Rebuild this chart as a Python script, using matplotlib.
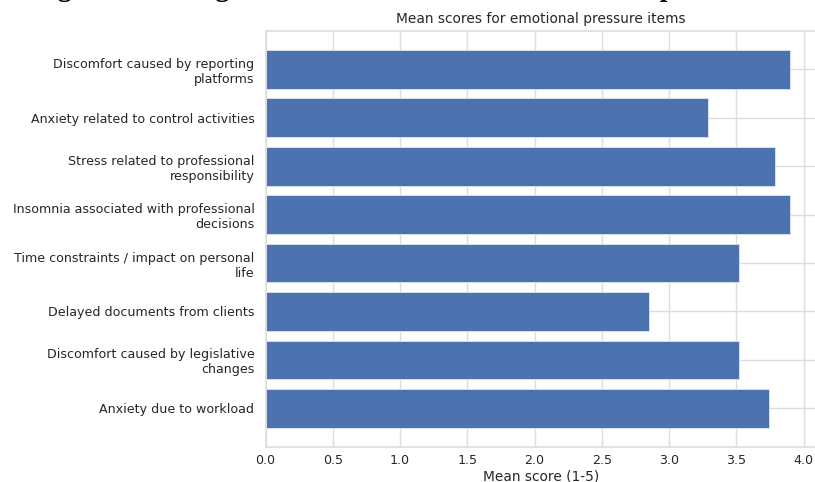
import matplotlib
matplotlib.use("Agg")
import matplotlib.pyplot as plt
import seaborn as sns

categories = [
    "Discomfort caused by reporting\nplatforms",
    "Anxiety related to control activities",
    "Stress related to professional\nresponsibility",
    "Insomnia associated with professional\ndecisions",
    "Time constraints / impact on personal\nlife",
    "Delayed documents from clients",
    "Discomfort caused by legislative\nchanges",
    "Anxiety due to workload",
]
mean_scores = [3.90, 3.29, 3.79, 3.90, 3.52, 2.85, 3.52, 3.74]
xticks = [0.0, 0.5, 1.0, 1.5, 2.0, 2.5, 3.0, 3.5, 4.0]

sns.set_theme(style="whitegrid")
plt.rcParams['font.family'] = ['DejaVu Sans']

fig = plt.figure(figsize=(8.15, 4.82), dpi=100)
ax = fig.add_axes([0.3258, 0.0734, 0.6758, 0.8623])

ypos = list(range(len(categories)))
ax.barh(ypos, mean_scores, height=0.8, color="#4c72b0", edgecolor="#dfe6f2",
        linewidth=0.6, zorder=2)
ax.set_yticks(ypos)
ax.set_yticklabels(categories, fontsize=9.1)
ax.invert_yaxis()
ax.set_xticks(xticks)
ax.set_xticklabels([f"{t:.1f}" for t in xticks], fontsize=9.1)
ax.tick_params(axis='y', pad=8, length=0)
ax.tick_params(axis='x', pad=5, length=0)
ax.set_xlabel("Mean score (1-5)", fontsize=9.9, labelpad=2)
ax.set_title("Mean scores for emotional pressure items", fontsize=9.9, pad=6)
ax.grid(True, color="#dddddd", linewidth=1)
for s in ax.spines.values():
    s.set_color("#dddddd")
ax.set_axisbelow(True)

fig.text(0.040, 1 + 4/482, "Figure 6. Average of items associated with emotional pressure",
         fontsize=20, fontweight="bold", family=["Liberation Serif"], va="baseline",
         ha="left", color="black")

fig.savefig("out.png", dpi=100)
